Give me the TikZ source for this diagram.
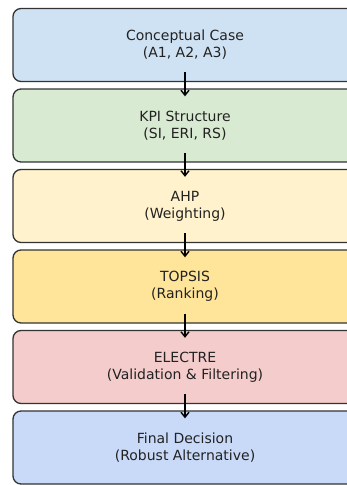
\documentclass[tikz,border=0pt]{standalone}
\usepackage{fontspec}
\setmainfont{DejaVu Sans}
\usetikzlibrary{arrows.meta}
\definecolor{cA}{HTML}{CFE2F3}
\definecolor{cB}{HTML}{D9EAD3}
\definecolor{cC}{HTML}{FFF2CC}
\definecolor{cD}{HTML}{FFE599}
\definecolor{cE}{HTML}{F4CCCC}
\definecolor{cF}{HTML}{C9DAF8}
\definecolor{edge}{HTML}{333333}
\definecolor{txt}{HTML}{222222}
\tikzset{
  stagebox/.style={draw=edge, line width=1.3pt, rounded corners=8pt,
    minimum width=344pt, minimum height=73pt, align=center,
    font=\fontsize{14}{17}\selectfont, text=txt, inner sep=0pt},
  arr/.style={-{Straight Barb[length=5pt,width=8pt]}, line width=1.4pt, black}
}
\begin{document}
\begin{tikzpicture}[x=1pt,y=-1pt]
\useasboundingbox (0,0) rectangle (347,485);
\node[stagebox, fill=cA] (a) at (185,45) {Conceptual Case\\(A1, A2, A3)};
\node[stagebox, fill=cB] (b) at (185,125.5) {KPI Structure\\(SI, ERI, RS)};
\node[stagebox, fill=cC] (c) at (185,206) {AHP\\(Weighting)};
\node[stagebox, fill=cD] (d) at (185,286.5) {TOPSIS\\(Ranking)};
\node[stagebox, fill=cE] (e) at (185,367) {ELECTRE\\(Validation \& Filtering)};
\node[stagebox, fill=cF] (f) at (185,447.5) {Final Decision\\(Robust Alternative)};
\foreach \p/\q in {a/b,b/c,c/d,d/e,e/f}
  \draw[arr] ([yshift=10pt]\p.south) -- ([yshift=-8pt]\q.north);
\end{tikzpicture}
\end{document}
